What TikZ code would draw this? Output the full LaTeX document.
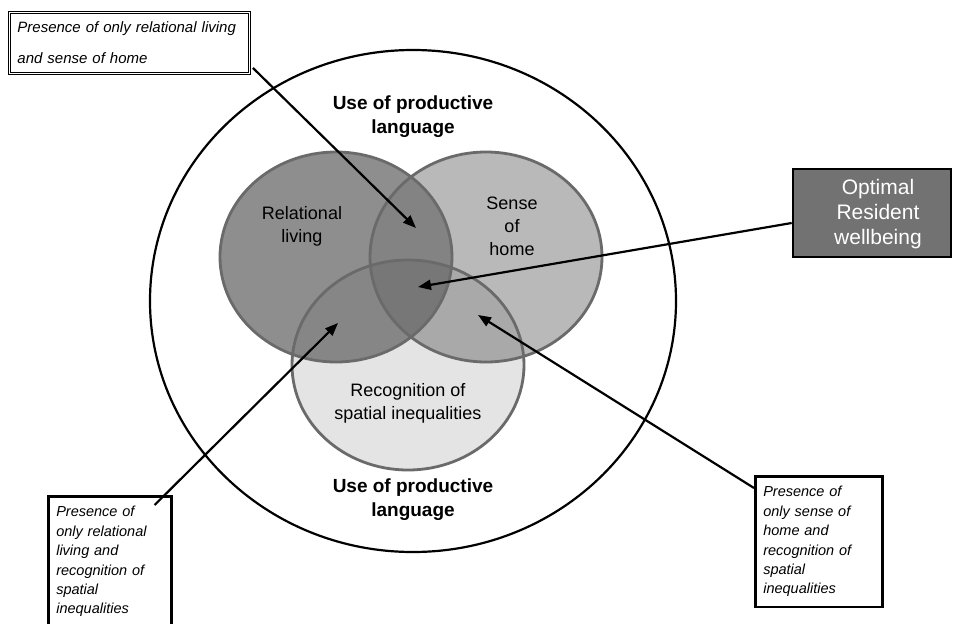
\documentclass[tikz,border=0pt]{standalone}
\usepackage{fontspec}
\setmainfont{Liberation Sans}
\usepackage{xcolor}
\usetikzlibrary{arrows.meta}

\definecolor{relgray}{HTML}{8E8E8E}
\definecolor{homegray}{HTML}{B9B9B9}
\definecolor{recgray}{HTML}{E4E4E4}
\definecolor{relhome}{HTML}{838383}
\definecolor{relrec}{HTML}{868686}
\definecolor{homerec}{HTML}{A9A9A9}
\definecolor{allthree}{HTML}{777777}
\definecolor{ringline}{HTML}{6A6A6A}
\definecolor{boxgray}{HTML}{727272}

\begin{document}
\begin{tikzpicture}[x=1pt,y=-1pt,
    blob/.style={x radius=116, y radius=105},
    ringdraw/.style={draw=ringline, line width=2.8pt},
    venntext/.style={align=center, font=\fontsize{18}{23}\selectfont},
    langtext/.style={align=center, font=\fontsize{19}{24}\selectfont\bfseries},
    note/.style={draw, line width=2.6pt, fill=white, align=left, inner xsep=8pt, inner ysep=10pt,
                 font=\fontsize{14.5}{19.4}\selectfont\itshape},
    pointer/.style={-{Triangle[length=13pt,width=10pt]}, line width=2.2pt}]
    \useasboundingbox (0,0) rectangle (954,624);
    % outer ring
    \draw[line width=2.2pt] (413,301) ellipse [x radius=263, y radius=251];
    % the three circles
    \coordinate (rel) at (336,257);
    \coordinate (home) at (486,257);
    \coordinate (rec) at (408,365);
    \fill[relgray] (rel) ellipse [blob];
    \fill[homegray] (home) ellipse [blob];
    \fill[recgray] (rec) ellipse [blob];
    \begin{scope}
        \clip (rel) ellipse [blob];
        \fill[relhome] (home) ellipse [blob];
        \fill[relrec] (rec) ellipse [blob];
        \clip (home) ellipse [blob];
        \fill[allthree] (rec) ellipse [blob];
    \end{scope}
    \begin{scope}
        \clip (home) ellipse [blob];
        \clip (rec) ellipse [blob];
        \fill[homerec] (rec) ellipse [blob];
        \clip (rel) ellipse [blob];
        \fill[allthree] (rec) ellipse [blob];
    \end{scope}
    \draw[ringdraw] (rel) ellipse [blob];
    \draw[ringdraw] (home) ellipse [blob];
    \draw[ringdraw] (rec) ellipse [blob];
    % labels
    \node[venntext] (reltext) at (302,226) {Relational\\living};
    \node[venntext] (hometext) at (512,226) {Sense\\of\\home};
    \node[venntext] (rectext) at (408,403) {Recognition of\\spatial inequalities};
    \node[langtext] (toplang) at (413,117) {Use of productive\\language};
    \node[langtext] (botlang) at (413,500) {Use of productive\\language};
    % boxes
    \node[draw, line width=2.6pt, fill=boxgray, minimum width=158pt, minimum height=88pt] (optimal) at (872,213) {};
    \node[text=white, align=center, font=\fontsize{21}{25}\selectfont] (optimaltext) at (878,214)
          {Optimal\\Resident\\wellbeing};
    \node[note, anchor=north west, text width=224pt, line width=0.9pt, double, double distance=1.3pt,
          inner ysep=9.5pt, font=\fontsize{15}{31}\selectfont\itshape] (topnote) at (9,12)
          {Presence of only relational living\\and sense of home};
    \node[note, anchor=north west, text width=107pt] (leftnote) at (47,495)
          {Presence of\\only relational\\living and\\recognition of\\spatial\\inequalities};
    \node[note, anchor=north west, text width=111pt] (rightnote) at (754,475)
          {Presence of\\only sense of\\home and\\recognition of\\spatial\\inequalities};
    % arrows
    \coordinate (tiprelhome) at (416,228);
    \coordinate (tipall) at (418,287);
    \coordinate (tiprelrec) at (338,323);
    \coordinate (tiphomerec) at (478,315);
    \draw[pointer] ([shift={(3,-6)}]topnote.south east) -- (tiprelhome);
    \draw[pointer] ([yshift=-10pt]optimal.west) -- (tipall);
    \draw[pointer] ([shift={(-18,10)}]leftnote.north east) -- (tiprelrec);
    \draw[pointer] ([shift={(0,13)}]rightnote.north west) -- (tiphomerec);
\end{tikzpicture}
\end{document}
